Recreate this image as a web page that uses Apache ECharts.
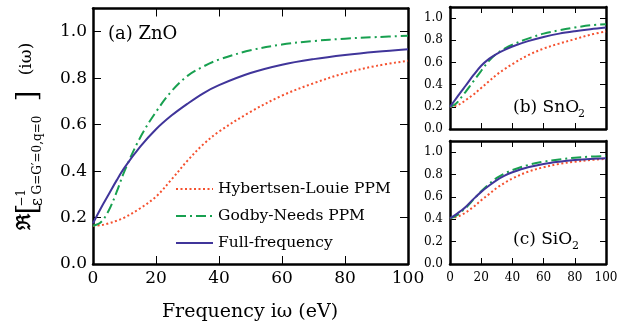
<!DOCTYPE html>
<html>
<head>
<meta charset="utf-8">
<script src="https://cdn.jsdelivr.net/npm/echarts@6/dist/echarts.min.js"></script>
<style>
  html, body { margin: 0; padding: 0; background: #fff; }
  #chart { width: 639px; height: 329px; }
</style>
</head>
<body>
<div id="chart"></div>
<script>
// frequency grid (eV)
const freq = [0, 2.5, 5, 7.5, 10, 15, 20, 25, 30, 35, 40, 50, 60, 70, 80, 90, 100];

// (a) ZnO
const znoHL = [0.165, 0.167, 0.175, 0.186, 0.2, 0.24, 0.29, 0.365, 0.445, 0.515, 0.57, 0.655, 0.725, 0.778, 0.822, 0.853, 0.875];
const znoGN = [0.165, 0.18, 0.23, 0.31, 0.4, 0.545, 0.655, 0.745, 0.81, 0.85, 0.88, 0.92, 0.945, 0.96, 0.97, 0.977, 0.983];
const znoFF = [0.175, 0.24, 0.3, 0.36, 0.415, 0.505, 0.58, 0.64, 0.69, 0.735, 0.77, 0.822, 0.858, 0.882, 0.9, 0.914, 0.925];

// (b) SnO2
const snoHL = [0.2, 0.205, 0.215, 0.235, 0.26, 0.31, 0.37, 0.43, 0.49, 0.54, 0.585, 0.665, 0.725, 0.77, 0.81, 0.85, 0.88];
const snoGN = [0.2, 0.215, 0.245, 0.29, 0.335, 0.43, 0.525, 0.615, 0.68, 0.725, 0.76, 0.815, 0.86, 0.89, 0.915, 0.935, 0.945];
const snoFF = [0.2, 0.248, 0.296, 0.344, 0.39, 0.485, 0.57, 0.632, 0.678, 0.714, 0.744, 0.792, 0.83, 0.86, 0.882, 0.9, 0.915];

// (c) SiO2
const sioHL = [0.41, 0.415, 0.425, 0.44, 0.46, 0.51, 0.57, 0.625, 0.68, 0.725, 0.765, 0.825, 0.865, 0.895, 0.915, 0.93, 0.94];
const sioGN = [0.41, 0.42, 0.44, 0.47, 0.5, 0.575, 0.65, 0.715, 0.77, 0.81, 0.84, 0.885, 0.915, 0.935, 0.95, 0.96, 0.965];
const sioFF = [0.41, 0.43, 0.455, 0.48, 0.51, 0.58, 0.645, 0.7, 0.75, 0.79, 0.82, 0.865, 0.895, 0.915, 0.93, 0.94, 0.945];

const names = ["Hybertsen-Louie PPM", "Godby-Needs PPM", "Full-frequency"];
const colors = ["#f5512f", "#18a050", "#40359a"];
const dashes = [[2, 2.5], [10, 4, 2, 4], "solid"];

const FONT = "DejaVu Serif";
const chart = echarts.init(document.getElementById("chart"));

const pair = (ys) => freq.map((x, i) => [x, ys[i]]);

const axisLine = { show: true, onZero: false, lineStyle: { color: "#000", width: 2.5 } };

function xAxes(grid, pos, showLabels, big) {
  return {
    type: "value", gridIndex: grid, position: pos,
    min: 0, max: 100, interval: 20,
    axisLine,
    axisTick: { show: true, inside: true, length: big ? 8 : 6, lineStyle: { color: "#000", width: 1 } },
    axisLabel: {
      show: showLabels, color: "#000", fontFamily: FONT,
      fontSize: big ? 17 : 12, margin: big ? 6 : 8
    },
    splitLine: { show: false }
  };
}

function yAxes(grid, pos, showLabels, big) {
  return {
    type: "value", gridIndex: grid, position: pos,
    min: 0, max: 1.1, interval: 0.2,
    axisLine,
    axisTick: { show: true, inside: true, length: big ? 8 : 6, lineStyle: { color: "#000", width: 1 } },
    axisLabel: {
      show: showLabels, fontFamily: FONT,
      fontSize: big ? 17 : 12, margin: big ? 6 : 7,
      // the 1.1 end label is kept but made invisible
      color: (v) => (Number(v) > 1.05 ? "rgba(0,0,0,0)" : "#000"),
      formatter: (v) => v.toFixed(1)
    },
    splitLine: { show: false }
  };
}

function panelSeries(axisIdx, sets) {
  return sets.map((ys, k) => ({
    name: names[k],
    type: "line",
    xAxisIndex: axisIdx, yAxisIndex: axisIdx,
    data: pair(ys),
    smooth: 0.35,
    symbol: "none",
    z: k === 2 ? 3 : 2,
    lineStyle: { color: colors[k], width: 2, type: dashes[k] },
    itemStyle: { color: colors[k] }
  }));
}

const rot = Math.PI / 2;
const ylab = (text, x, y, size, weight) => ({
  type: "text", x, y, rotation: rot,
  style: { text, fontFamily: FONT, fontSize: size, fontWeight: weight || "normal", fill: "#000", align: "center", verticalAlign: "middle" }
});
const lab = (text, x, y, size) => ({
  type: "text", x, y,
  style: { text, fontFamily: FONT, fontSize: size, fill: "#000", align: "left", verticalAlign: "middle" }
});

chart.setOption({
  animation: false,
  backgroundColor: "#fff",
  grid: [
    { left: 93, right: 231, top: 7, bottom: 65 },
    { left: 450, right: 33, top: 7, bottom: 200 },
    { left: 450, right: 33, top: 141, bottom: 65 }
  ],
  xAxis: [
    xAxes(0, "bottom", true, true), xAxes(1, "bottom", false, false), xAxes(2, "bottom", true, false),
    xAxes(0, "top", false, true), xAxes(1, "top", false, false), xAxes(2, "top", false, false)
  ],
  yAxis: [
    yAxes(0, "left", true, true), yAxes(1, "left", true, false), yAxes(2, "left", true, false),
    yAxes(0, "right", false, true), yAxes(1, "right", false, false), yAxes(2, "right", false, false)
  ],
  legend: {
    data: names,
    orient: "vertical",
    left: 175, top: 181,
    padding: 0,
    itemWidth: 37, itemHeight: 14, itemGap: 11,
    itemStyle: { opacity: 0 },
    textStyle: { fontFamily: FONT, fontSize: 15.5, color: "#000" }
  },
  series: [
    ...panelSeries(0, [znoHL, znoGN, znoFF]),
    ...panelSeries(1, [snoHL, snoGN, snoFF]),
    ...panelSeries(2, [sioHL, sioGN, sioFF])
  ],
  graphic: [
    // y-axis title of panel (a)
    ylab("ℜ", 25, 222, 19, "bold"),
    ylab("[", 29, 209, 28),
    ylab("ε", 38, 202, 16),
    ylab("−1", 22, 198, 12),
    ylab("G=G′=0,q=0", 38, 155, 12),
    ylab("]", 29, 96, 28),
    ylab("(iω)", 27, 59, 17),
    // x-axis title
    { type: "text", x: 250, y: 312, style: { text: "Frequency iω (eV)", fontFamily: FONT, fontSize: 19, fill: "#000", align: "center", verticalAlign: "middle" } },
    // panel labels
    lab("(a) ZnO", 108, 34, 18),
    lab("(b) SnO", 513, 108, 17),
    lab("2", 578, 114, 11),
    lab("(c) SiO", 513, 240, 17),
    lab("2", 572, 246, 11)
  ]
});
</script>
</body>
</html>
